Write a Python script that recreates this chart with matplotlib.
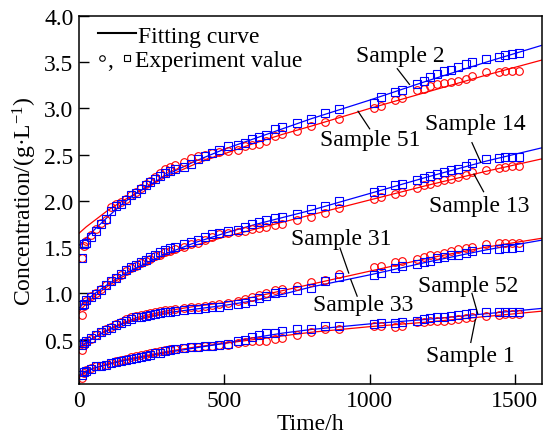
import numpy as np
import matplotlib
matplotlib.use("Agg")
import matplotlib.pyplot as plt

plt.rcParams['font.family'] = ['Liberation Serif', 'DejaVu Serif']
plt.rcParams['font.size'] = 17
plt.rcParams['mathtext.fontset'] = 'custom'
plt.rcParams['mathtext.rm'] = 'Liberation Serif'
plt.rcParams['mathtext.it'] = 'Liberation Serif:italic'

# =========================
# DATA
# =========================

t_obs = [10, 17, 25, 42, 59, 76, 93, 110, 127, 144, 161, 178, 195, 212, 229, 246,
         263, 280, 297, 314, 331, 360, 384, 408, 432, 458, 482, 511, 546, 570, 594,
         619, 643, 675, 700, 750, 798, 846, 893, 1015, 1038, 1087, 1110, 1162, 1186,
         1208, 1232, 1256, 1279, 1303, 1330, 1353, 1401, 1445, 1467, 1490, 1514]

# blue squares
s2 = [1.38, 1.53, 1.55, 1.61, 1.68, 1.75, 1.80, 1.89, 1.94, 1.97, 2.01, 2.06, 2.09, 2.13, 2.17, 2.20,
      2.24, 2.27, 2.30, 2.32, 2.34, 2.37, 2.40, 2.45, 2.49, 2.52, 2.55, 2.59, 2.61, 2.63, 2.67,
      2.69, 2.71, 2.78, 2.80, 2.84, 2.89, 2.95, 2.99, 3.06, 3.12, 3.18, 3.20, 3.26, 3.30,
      3.34, 3.37, 3.40, 3.42, 3.45, 3.48, 3.50, 3.54, 3.56, 3.58, 3.59, 3.60]
s14 = [0.87, 0.89, 0.93, 0.96, 0.99, 1.04, 1.09, 1.13, 1.17, 1.21, 1.25, 1.28, 1.31, 1.34, 1.36, 1.39,
       1.42, 1.45, 1.47, 1.49, 1.50, 1.53, 1.56, 1.58, 1.61, 1.64, 1.65, 1.67, 1.69, 1.72, 1.75,
       1.77, 1.79, 1.81, 1.83, 1.86, 1.91, 1.95, 2.00, 2.10, 2.12, 2.17, 2.18, 2.23, 2.25,
       2.27, 2.29, 2.31, 2.33, 2.35, 2.38, 2.41, 2.45, 2.46, 2.47, 2.47, 2.48]
s33 = [0.44, 0.46, 0.48, 0.52, 0.55, 0.58, 0.60, 0.63, 0.66, 0.68, 0.70, 0.72, 0.74, 0.75, 0.76, 0.77,
       0.78, 0.79, 0.80, 0.80, 0.81, 0.82, 0.83, 0.83, 0.84, 0.85, 0.85, 0.87, 0.89, 0.90, 0.92,
       0.95, 0.97, 1.00, 1.02, 1.04, 1.06, 1.13, 1.18, 1.20, 1.22, 1.27, 1.30, 1.32, 1.34,
       1.35, 1.38, 1.39, 1.41, 1.42, 1.44, 1.46, 1.48, 1.48, 1.49, 1.49, 1.50]
s52 = [0.12, 0.15, 0.16, 0.18, 0.21, 0.22, 0.23, 0.245, 0.26, 0.27, 0.28, 0.29, 0.30, 0.31, 0.32, 0.33,
       0.35, 0.36, 0.38, 0.39, 0.40, 0.41, 0.415, 0.42, 0.43, 0.43, 0.44, 0.45, 0.48, 0.50, 0.53,
       0.55, 0.57, 0.57, 0.59, 0.61, 0.61, 0.645, 0.645, 0.67, 0.68, 0.68, 0.69, 0.70, 0.72,
       0.73, 0.74, 0.74, 0.76, 0.765, 0.775, 0.79, 0.795, 0.80, 0.80, 0.80, 0.80]

# red circles
s51 = [1.38, 1.51, 1.57, 1.63, 1.70, 1.76, 1.79, 1.93, 1.97, 1.99, 2.02, 2.06, 2.10, 2.14, 2.18, 2.22,
       2.26, 2.30, 2.34, 2.37, 2.39, 2.42, 2.46, 2.49, 2.50, 2.52, 2.53, 2.54, 2.55, 2.59, 2.60,
       2.62, 2.65, 2.70, 2.72, 2.76, 2.81, 2.85, 2.89, 3.01, 3.03, 3.09, 3.11, 3.20, 3.21,
       3.24, 3.26, 3.28, 3.29, 3.30, 3.32, 3.35, 3.39, 3.39, 3.40, 3.40, 3.41]
s13 = [0.77, 0.86, 0.92, 0.97, 1.00, 1.05, 1.09, 1.13, 1.17, 1.20, 1.24, 1.27, 1.30, 1.33, 1.35, 1.37,
       1.40, 1.42, 1.45, 1.46, 1.48, 1.50, 1.53, 1.55, 1.58, 1.61, 1.64, 1.65, 1.66, 1.68, 1.70,
       1.71, 1.72, 1.74, 1.75, 1.79, 1.83, 1.87, 1.92, 2.02, 2.04, 2.08, 2.10, 2.14, 2.17,
       2.18, 2.20, 2.23, 2.24, 2.26, 2.28, 2.31, 2.33, 2.36, 2.37, 2.38, 2.38]
s31 = [0.39, 0.44, 0.47, 0.51, 0.55, 0.58, 0.61, 0.64, 0.67, 0.69, 0.72, 0.74, 0.76, 0.77, 0.78, 0.79,
       0.80, 0.81, 0.82, 0.82, 0.83, 0.84, 0.85, 0.85, 0.86, 0.87, 0.88, 0.90, 0.92, 0.94, 0.96,
       0.98, 1.00, 1.035, 1.05, 1.08, 1.12, 1.15, 1.21, 1.28, 1.30, 1.34, 1.35, 1.37, 1.39,
       1.41, 1.42, 1.44, 1.46, 1.48, 1.49, 1.50, 1.53, 1.54, 1.54, 1.55, 1.55]
s1 = [0.09, 0.14, 0.17, 0.19, 0.21, 0.22, 0.23, 0.25, 0.27, 0.28, 0.29, 0.31, 0.32, 0.33, 0.34, 0.35,
      0.37, 0.38, 0.39, 0.40, 0.40, 0.41, 0.42, 0.42, 0.43, 0.43, 0.44, 0.44, 0.46, 0.47, 0.48,
      0.48, 0.49, 0.51, 0.52, 0.55, 0.58, 0.61, 0.62, 0.645, 0.645, 0.64, 0.645, 0.69, 0.69,
      0.70, 0.70, 0.70, 0.715, 0.72, 0.73, 0.75, 0.76, 0.765, 0.775, 0.775, 0.775]

# fitting curves
t_fit = [0, 25, 50, 100, 150, 200, 300, 400, 500, 600, 700, 800, 1000, 1200, 1400, 1600]
fit_s2 = [1.52, 1.60, 1.68, 1.83, 1.97, 2.09, 2.28, 2.43, 2.56, 2.67, 2.78, 2.89, 3.09, 3.30, 3.50, 3.69]
fit_s51 = [1.65, 1.72, 1.78, 1.90, 2.00, 2.09, 2.26, 2.40, 2.51, 2.62, 2.72, 2.81, 3.00, 3.18, 3.36, 3.53]
fit_s14 = [0.84, 0.92, 0.99, 1.10, 1.20, 1.28, 1.43, 1.55, 1.65, 1.74, 1.82, 1.90, 2.08, 2.26, 2.43, 2.58]
fit_s13 = [0.80, 0.89, 0.96, 1.08, 1.18, 1.27, 1.41, 1.52, 1.61, 1.69, 1.77, 1.85, 2.01, 2.17, 2.32, 2.46]
fit_s33 = [0.42, 0.47, 0.52, 0.60, 0.67, 0.72, 0.79, 0.83, 0.87, 0.92, 0.99, 1.07, 1.20, 1.34, 1.47, 1.58]
fit_s31 = [0.40, 0.46, 0.52, 0.61, 0.68, 0.74, 0.81, 0.86, 0.90, 0.96, 1.03, 1.10, 1.24, 1.38, 1.50, 1.60]
fit_s52 = [0.11, 0.16, 0.19, 0.23, 0.27, 0.30, 0.36, 0.41, 0.46, 0.52, 0.57, 0.61, 0.67, 0.72, 0.78, 0.84]
fit_s1 = [0.10, 0.15, 0.19, 0.24, 0.28, 0.31, 0.37, 0.42, 0.46, 0.50, 0.54, 0.58, 0.64, 0.69, 0.75, 0.81]

blue_obs = [s2, s14, s33, s52]
red_obs = [s51, s13, s31, s1]
blue_fit = [fit_s2, fit_s14, fit_s33, fit_s52]
red_fit = [fit_s51, fit_s13, fit_s31, fit_s1]

# label text, position (baseline), pointer line
labels = ["Sample 2", "Sample 51", "Sample 14", "Sample 13",
          "Sample 31", "Sample 33", "Sample 52", "Sample 1"]
label_xy = [(1105, 3.51), (1001, 2.60), (1363, 2.78), (1376, 1.89),
            (902, 1.535), (977, 0.82), (1339, 1.03), (1345, 0.27)]
pointers = [((1095, 3.43), (1137, 3.26)),
            ((960, 2.97), (1000, 2.78)),
            ((1352, 2.63), (1382, 2.42)),
            ((1359, 2.29), (1392, 2.10)),
            ((898, 1.49), (928, 1.22)),
            ((935, 1.15), (957, 0.97)),
            ((1352, 1.00), (1372, 0.78)),
            ((1348, 0.47), (1364, 0.72))]

# =========================
# PLOT
# =========================

fig = plt.figure(figsize=(5.44, 4.39), dpi=100)
ax = fig.add_axes([79/544, 54/439, 463/544, 368/439])

for y in red_fit:
    ax.plot(t_fit, y, color='red', lw=0.9)
for y in blue_fit:
    ax.plot(t_fit, y, color='blue', lw=0.9)
for y in red_obs:
    ax.plot(t_obs, y, 'o', ms=5.5, mfc='none', mec='red', mew=0.8)
for y in blue_obs:
    ax.plot(t_obs, y, 's', ms=5.5, mfc='none', mec='blue', mew=0.8)

for txt, (x, y) in zip(labels, label_xy):
    ax.text(x, y, txt, ha='center', va='baseline')
for (x0, y0), (x1, y1) in pointers:
    ax.plot([x0, x1], [y0, y1], color='black', lw=0.9)

# legend drawn by hand
ax.plot([0.042, 0.124], [0.954, 0.954], color='black', lw=1.5, transform=ax.transAxes)
ax.text(0.128, 0.929, "Fitting curve", transform=ax.transAxes, va='baseline')
ax.plot([0.049], [0.885], 'o', ms=4, mfc='none', mec='black', mew=0.8, transform=ax.transAxes)
ax.text(0.060, 0.865, ",", transform=ax.transAxes, va='baseline')
ax.plot([0.103], [0.885], 's', ms=4, mfc='none', mec='black', mew=0.8, transform=ax.transAxes)
ax.text(0.121, 0.865, "Experiment value", transform=ax.transAxes, va='baseline')

ax.set_xlim(0, 1593)
ax.set_ylim(0.02, 4.0)
ax.set_xticks([0, 500, 1000, 1500])
ax.set_yticks([0.5, 1.0, 1.5, 2.0, 2.5, 3.0, 3.5, 4.0])
ax.yaxis.set_major_formatter(matplotlib.ticker.FormatStrFormatter('%.1f'))
ax.tick_params(direction='in', length=7, width=1, pad=4, top=False, right=False)
for s in ax.spines.values():
    s.set_linewidth(1.1)

ax.set_xlabel("Time/h", labelpad=2)
ax.set_ylabel("Concentration/(g·L$^{-1}$)", labelpad=4)

fig.savefig("out.png", dpi=100)
